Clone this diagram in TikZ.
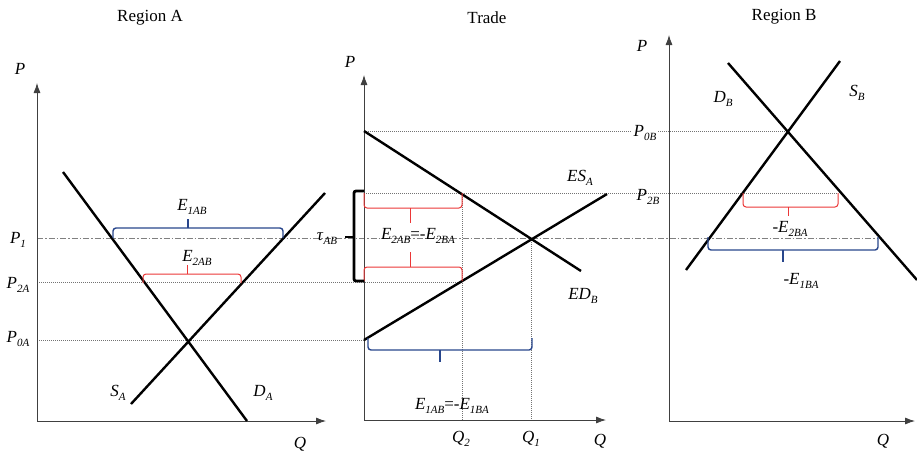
\documentclass[tikz,border=0pt]{standalone}
\usepackage{fontspec}
\setmainfont{Liberation Serif}
\usetikzlibrary{arrows.meta}
\definecolor{bred}{RGB}{235,55,55}
\definecolor{bblue}{RGB}{40,70,140}
\newcommand\lbl[2]{\textit{#1}\raisebox{-0.5ex}{\fontsize{11}{11}\selectfont\textit{#2}}}
\begin{document}
\begin{tikzpicture}[x=1pt,y=-1pt,
  axis/.style={draw=black!75, line width=0.8pt, -{Latex[length=10pt,width=7pt]}},
  curve/.style={draw=black, line width=2.4pt},
  dots/.style={draw=black!55, line width=0.7pt, dash pattern=on 1pt off 1pt},
  dashdot/.style={draw=black!50, line width=0.7pt, dash pattern=on 6pt off 2pt on 1.5pt off 2pt},
  rbrace/.style={draw=bred, line width=1pt, rounded corners=3pt},
  bbrace/.style={draw=bblue, line width=1.4pt, rounded corners=3pt},
  lab/.style={font=\fontsize{17}{20}\selectfont, inner sep=0pt},
  taubr/.style={draw=black, line width=2.8pt, rounded corners=2pt}
]
\useasboundingbox (0,0) rectangle (917,455);

% titles
\node[lab] (tA) at (150,18) {Region A};
\node[lab] (tT) at (487,18) {Trade};
\node[lab] (tB) at (784,17) {Region B};

% ---------- guide lines ----------
\coordinate (p1a) at (37,238);  \coordinate (p1b) at (878,238);
\coordinate (p2a) at (37,282);  \coordinate (p2b) at (462,282);
\coordinate (p0a) at (37,340);  \coordinate (p0b) at (364,340);
\coordinate (p0B1) at (364,131); \coordinate (p0B2) at (788,131);
\coordinate (p2B1) at (364,193); \coordinate (p2B2) at (838,193);
\coordinate (q2t) at (462,193); \coordinate (q2b) at (462,420);
\coordinate (q1t) at (531,238); \coordinate (q1b) at (531,420);
\draw[dashdot] (p1a) -- (p1b);
\draw[dots] (p2a) -- (p2b);
\draw[dots] (p0a) -- (p0b);
\draw[dots] (p0B1) -- (p0B2);
\draw[dots] (p2B1) -- (p2B2);
\draw[dots] (q2t) -- (q2b);
\draw[dots] (q1t) -- (q1b);

% ---------- Region A ----------
\coordinate (oA) at (37,421); \coordinate (yA) at (37,83); \coordinate (xA) at (326,421);
\draw[axis] (oA) -- (yA);
\draw[axis] (oA) -- (xA);
\coordinate (dA1) at (63,172); \coordinate (dA2) at (247,421);
\coordinate (sA1) at (131,404); \coordinate (sA2) at (325,193);
\draw[curve] (dA1) -- (dA2);
\draw[curve] (sA1) -- (sA2);
\draw[bbrace] (113,238) -- (113,228) -- (283,228) -- (283,238);
\draw[bbrace] (188,228) -- (188,219);
\draw[rbrace] (143,283) -- (143,274) -- (241,274) -- (241,283);
\draw[rbrace] (187,274) -- (187,265);
\node[lab] (PA) at (20,69) {\textit{P}};
\node[lab] (QA) at (300,444) {\textit{Q}};
\node[lab] (P1) at (18,240) {\lbl{P}{1}};
\node[lab] (P2A) at (18,285) {\lbl{P}{2A}};
\node[lab] (P0A) at (18,339) {\lbl{P}{0A}};
\node[lab] (SA) at (118,393) {\lbl{S}{A}};
\node[lab] (DA) at (263,393) {\lbl{D}{A}};
\node[lab] (E1AB) at (192,207) {\lbl{E}{1AB}};
\node[lab] (E2AB) at (197,258) {\lbl{E}{2AB}};

% ---------- Trade ----------
\coordinate (oT) at (364,420); \coordinate (yT) at (364,75); \coordinate (xT) at (606,420);
\draw[axis] (oT) -- (yT);
\draw[axis] (oT) -- (xT);
\coordinate (ed1) at (364,131); \coordinate (ed2) at (581,271);
\coordinate (es1) at (364,340); \coordinate (es2) at (607,194);
\draw[curve] (ed1) -- (ed2);
\draw[curve] (es1) -- (es2);
\draw[rbrace] (364,193) -- (364,208) -- (462,208) -- (462,193);
\draw[rbrace] (410,208) -- (410,223);
\draw[rbrace] (364,281) -- (364,267) -- (462,267) -- (462,281);
\draw[rbrace] (410,267) -- (410,252);
\draw[bbrace] (368,338) -- (368,350) -- (532,350) -- (532,338);
\draw[bbrace] (440,350) -- (440,362);
\draw[taubr] (364,191) -- (354,191) -- (354,281) -- (364,281);
\draw[taubr] (354,237) -- (345,237);
\node[lab] (PT) at (350,62) {\textit{P}};
\node[lab] (QT) at (600,441) {\textit{Q}};
\node[lab] (Q2) at (461,439) {\lbl{Q}{2}};
\node[lab] (Q1) at (531,439) {\lbl{Q}{1}};
\node[lab] (ESA) at (580,178) {\lbl{ES}{A}};
\node[lab] (EDB) at (583,296) {\lbl{ED}{B}};
\node[lab] (tau) at (327,239) {\lbl{τ}{AB}};
\node[lab] (E2eq) at (418,236) {\lbl{E}{2AB}=-\lbl{E}{2BA}};
\node[lab] (E1eq) at (452,406) {\lbl{E}{1AB}=-\lbl{E}{1BA}};

% ---------- Region B ----------
\coordinate (oB) at (669,421); \coordinate (yB) at (669,35); \coordinate (xB) at (915,421);
\draw[axis] (oB) -- (yB);
\draw[axis] (oB) -- (xB);
\coordinate (dB1) at (728,63); \coordinate (dB2) at (917,280);
\coordinate (sB1) at (686,270); \coordinate (sB2) at (840,61);
\draw[curve] (dB1) -- (dB2);
\draw[curve] (sB1) -- (sB2);
\draw[rbrace] (743,193) -- (743,207) -- (838,207) -- (838,193);
\draw[rbrace] (788,207) -- (788,216);
\draw[bbrace] (708,237) -- (708,250) -- (878,250) -- (878,237);
\draw[bbrace] (783,250) -- (783,262);
\node[lab] (PB) at (642,46) {\textit{P}};
\node[lab] (QB) at (883,441) {\textit{Q}};
\node[lab, fill=white, inner xsep=2pt, inner ysep=1pt] (P0B) at (645,133) {\lbl{P}{0B}};
\node[lab] (P2B) at (648,197) {\lbl{P}{2B}};
\node[lab] (DB) at (723,99) {\lbl{D}{B}};
\node[lab] (SB) at (857,93) {\lbl{S}{B}};
\node[lab] (E2BA) at (790,229) {-\lbl{E}{2BA}};
\node[lab] (E1BA) at (801,281) {-\lbl{E}{1BA}};
\end{tikzpicture}
\end{document}
